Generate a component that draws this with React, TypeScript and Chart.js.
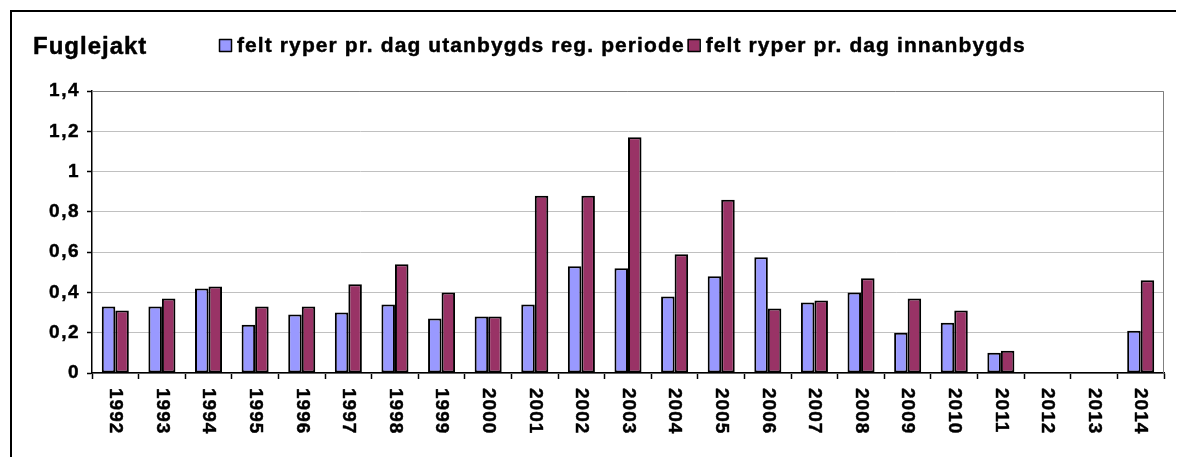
import React, { useEffect, useRef } from "react";
import { Chart, registerables } from "chart.js";

Chart.register(...registerables);

const chartTitle = "Fuglejakt";
const years = [
  "1992", "1993", "1994", "1995", "1996", "1997", "1998", "1999", "2000", "2001", "2002", "2003",
  "2004", "2005", "2006", "2007", "2008", "2009", "2010", "2011", "2012", "2013", "2014",
];
const seriesNames = [
  "felt ryper pr. dag utanbygds reg. periode",
  "felt ryper pr. dag innanbygds",
];
const utanbygds = [
  0.33, 0.33, 0.42, 0.24, 0.29, 0.3, 0.34, 0.27, 0.28, 0.34, 0.53, 0.52,
  0.38, 0.48, 0.575, 0.35, 0.4, 0.2, 0.25, 0.1, null, null, 0.21,
];
const innanbygds = [
  0.31, 0.37, 0.43, 0.33, 0.33, 0.44, 0.54, 0.4, 0.28, 0.88, 0.88, 1.17,
  0.59, 0.86, 0.32, 0.36, 0.47, 0.37, 0.31, 0.11, null, null, 0.46,
];
const yTickLabels = ["0", "0,2", "0,4", "0,6", "0,8", "1", "1,2", "1,4"];
const seriesColors = ["#9999FF", "#993366"];

const FAMILY = '"Liberation Sans", Arial, Helvetica, sans-serif';
const W = 1168;
const H = 449;
const TICK_SPACING = "1.5px";
const STROKE = 0.45;

const decorPlugin = {
  id: "decor",
  beforeUpdate(chart: any) {
    chart.ctx.letterSpacing = TICK_SPACING;
  },
  beforeDraw(chart: any) {
    const ctx = chart.ctx;
    ctx.letterSpacing = TICK_SPACING;
    ctx.save();
    ctx.fillStyle = "#fff";
    ctx.fillRect(0, 0, chart.width, chart.height);
    // outer frame (only top and left are inside the picture)
    ctx.fillStyle = "#000";
    ctx.fillRect(2, 2, chart.width, 2);
    ctx.fillRect(2, 2, 2, chart.height);
    ctx.restore();
  },
  beforeDatasetsDraw(chart: any) {
    const ctx = chart.ctx;
    const a = chart.chartArea;
    ctx.save();
    ctx.strokeStyle = "#808080";
    ctx.lineWidth = 1;
    ctx.beginPath();
    ctx.moveTo(a.left, Math.round(a.top) + 0.5);
    ctx.lineTo(Math.round(a.right) - 0.5, Math.round(a.top) + 0.5);
    ctx.lineTo(Math.round(a.right) - 0.5, a.bottom);
    ctx.stroke();
    ctx.restore();
  },
  afterDraw(chart: any) {
    const ctx = chart.ctx;
    const put = (s: string, x: number, y: number) => {
      ctx.strokeText(s, x, y);
      ctx.fillText(s, x, y);
    };
    ctx.save();
    ctx.fillStyle = "#000";
    ctx.strokeStyle = "#000";
    ctx.lineWidth = STROKE;
    ctx.lineJoin = "round";
    // title
    ctx.letterSpacing = "1px";
    ctx.font = `bold 24px ${FAMILY}`;
    ctx.textAlign = "left";
    ctx.textBaseline = "alphabetic";
    put(chartTitle, 25, 46);
    // legend
    ctx.letterSpacing = "1.1px";
    ctx.font = `bold 21px ${FAMILY}`;
    let x = 211;
    chart.data.datasets.forEach((ds: any) => {
      ctx.fillStyle = ds.backgroundColor;
      ctx.fillRect(x, 31, 12, 12);
      ctx.strokeStyle = "#000";
      ctx.lineWidth = 1.5;
      ctx.strokeRect(x + 0.5, 31.5, 12, 12);
      ctx.fillStyle = "#000";
      ctx.lineWidth = STROKE;
      const tx = x + 18;
      put(ds.label, tx, 44);
      x = tx + ctx.measureText(ds.label).width + 3;
    });
    // x category labels, rotated clockwise (reading top to bottom)
    const xs = chart.scales.x;
    ctx.letterSpacing = "1px";
    ctx.font = `bold 19px ${FAMILY}`;
    ctx.textAlign = "left";
    ctx.textBaseline = "middle";
    xs.ticks.forEach((t: any, i: number) => {
      const px = xs.getPixelForTick(i);
      ctx.save();
      ctx.translate(px, xs.top + 15);
      ctx.rotate(Math.PI / 2);
      put(String(chart.data.labels[i]), 0, 0);
      ctx.restore();
    });
    ctx.restore();
  },
};

export default function App() {
  const ref = useRef<HTMLCanvasElement | null>(null);
  useEffect(() => {
    if (!ref.current) return;
    const chart = new Chart(ref.current, {
      type: "bar",
      data: {
        labels: years,
        datasets: [
          {
            label: seriesNames[0],
            data: utanbygds,
            backgroundColor: seriesColors[0],
            borderColor: "#000",
            borderWidth: 2,
            borderSkipped: false,
          },
          {
            label: seriesNames[1],
            data: innanbygds,
            backgroundColor: seriesColors[1],
            borderColor: "#000",
            borderWidth: 2,
            borderSkipped: false,
          },
        ],
      } as any,
      options: {
        responsive: false,
        animation: false,
        devicePixelRatio: 1,
        layout: { padding: { top: 83, right: 12, left: 0, bottom: 0 } },
        datasets: { bar: { categoryPercentage: 0.58, barPercentage: 1 } },
        plugins: {
          legend: { display: false },
          title: { display: false },
          tooltip: { enabled: false },
        },
        scales: {
          x: {
            grid: {
              offset: true,
              drawOnChartArea: false,
              drawTicks: true,
              tickLength: 6,
              tickColor: "#000",
              tickWidth: 1.5,
            },
            border: { display: true, color: "#000", width: 1.5 },
            ticks: { display: false },
            afterFit: (s: any) => {
              s.height = 84;
            },
          },
          y: {
            min: 0,
            max: 1.4,
            ticks: {
              stepSize: 0.2,
              color: "#000",
              padding: 7,
              textStrokeColor: "#000",
              textStrokeWidth: STROKE,
              font: { size: 19, weight: "bold", family: FAMILY },
              callback: (v: any) => yTickLabels[Math.round(Number(v) / 0.2)],
            },
            grid: {
              color: "#c0c0c0",
              lineWidth: 1,
              drawTicks: true,
              tickLength: 5,
              tickColor: "#000",
              tickWidth: 1.5,
            },
            border: { display: true, color: "#000", width: 1.5 },
            afterFit: (s: any) => {
              s.width = 84;
            },
          },
        },
      } as any,
      plugins: [decorPlugin],
    });
    return () => chart.destroy();
  }, []);
  return (
    <div style={{ width: W, height: H }}>
      <canvas ref={ref} width={W} height={H} style={{ display: "block", width: W, height: H }} />
    </div>
  );
}
